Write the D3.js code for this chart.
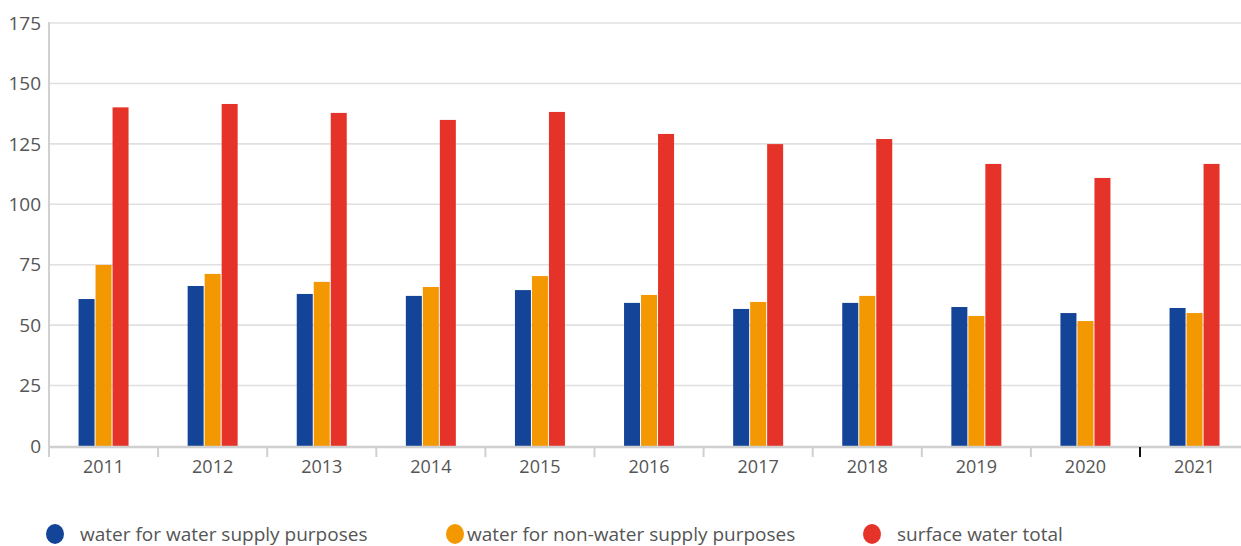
<!DOCTYPE html>
<html>
<head>
<meta charset="utf-8">
<script src="https://cdn.jsdelivr.net/npm/d3@7"></script>
<style>
  html, body { margin: 0; padding: 0; background: #fff; }
  svg { display: block; font-family: "Open Sans", "Noto Sans", sans-serif; }
</style>
</head>
<body>
<svg id="chart" width="1241" height="546"></svg>
<script>
const years = ["2011","2012","2013","2014","2015","2016","2017","2018","2019","2020","2021"];
const seriesNames = ["water for water supply purposes", "water for non-water supply purposes", "surface water total"];
const waterSupply    = [60.8, 66.2, 62.9, 62.1, 64.5, 59.2, 56.7, 59.2, 57.5, 55.0, 57.1];
const nonWaterSupply = [74.9, 71.2, 67.9, 65.8, 70.3, 62.5, 59.6, 62.1, 53.8, 51.7, 55.0];
const surfaceTotal   = [140.1, 141.5, 137.8, 134.9, 138.2, 129.1, 124.9, 127.0, 116.7, 110.9, 116.7];
const yTicks = [0, 25, 50, 75, 100, 125, 150, 175];
const colors = ["#134497", "#f39800", "#e5332a"];

const seriesValues = [waterSupply, nonWaterSupply, surfaceTotal];
const svg = d3.select("#chart");

const mLeft = 49, mTop = 23, mBottom = 446;
const bandW = 109.1;
const mRight = mLeft + bandW * years.length;

const x = d3.scaleBand().domain(years).range([mLeft, mRight]).padding(0);
const x1 = d3.scaleBand().domain(seriesNames)
  .range([x.bandwidth() / 2 - 25, x.bandwidth() / 2 + 25])
  .paddingInner(0.0588).paddingOuter(0);
const y = d3.scaleLinear().domain([0, 175]).range([mBottom, mTop]);

// gridlines
svg.append("g").selectAll("line").data(yTicks.filter(d => d > 0)).join("line")
  .attr("x1", mLeft).attr("x2", 1241)
  .attr("y1", d => y(d)).attr("y2", d => y(d))
  .attr("stroke", "#e0e0e0").attr("stroke-width", 1.6);

// y labels
svg.append("g").selectAll("text").data(yTicks).join("text")
  .attr("x", 41).attr("y", d => y(d))
  .attr("dy", "0.35em").attr("text-anchor", "end")
  .attr("fill", "#555").attr("font-size", 19)
  .text(d => d);

// bars
const groups = svg.append("g").selectAll("g").data(years).join("g")
  .attr("transform", d => `translate(${x(d)},0)`);
groups.selectAll("rect")
  .data((yr, i) => seriesNames.map((s, k) => ({ s, k, v: seriesValues[k][i] })))
  .join("rect")
  .attr("x", d => x1(d.s))
  .attr("width", x1.bandwidth())
  .attr("y", d => y(d.v))
  .attr("height", d => y(0) - y(d.v))
  .attr("fill", d => colors[d.k]);

// y axis line
svg.append("line").attr("x1", mLeft).attr("x2", mLeft).attr("y1", mTop - 1).attr("y2", mBottom + 11)
  .attr("stroke", "#d0d0d0").attr("stroke-width", 2);

// x axis line
svg.append("line").attr("x1", mLeft).attr("x2", 1241).attr("y1", mBottom + 1).attr("y2", mBottom + 1)
  .attr("stroke", "#d0d0d0").attr("stroke-width", 2.5);

// x ticks (band separators)
const sepIdx = d3.range(1, years.length);
svg.append("g").selectAll("line").data(sepIdx).join("line")
  .attr("x1", i => x(years[i])).attr("x2", i => x(years[i]))
  .attr("y1", mBottom + 1).attr("y2", mBottom + 11)
  .attr("stroke", i => i === years.length - 1 ? "#111" : "#d0d0d0")
  .attr("stroke-width", 2);

// x labels
svg.append("g").selectAll("text").data(years).join("text")
  .attr("x", d => x(d) + x.bandwidth() / 2).attr("y", 467)
  .attr("dy", "0.35em").attr("text-anchor", "middle")
  .attr("fill", "#555").attr("font-size", 18)
  .text(d => d);

// legend
const legendX = [55, 455, 872];
const lg = svg.append("g").selectAll("g").data(seriesNames).join("g")
  .attr("transform", (d, i) => `translate(${legendX[i]},534)`);
lg.append("ellipse").attr("rx", 9).attr("ry", 10).attr("fill", (d, i) => colors[i]);
lg.append("text").attr("x", (d, i) => i === 1 ? 12 : 25).attr("dy", "0.35em")
  .attr("fill", "#555").attr("font-size", 19).text(d => d);
</script>
</body>
</html>
